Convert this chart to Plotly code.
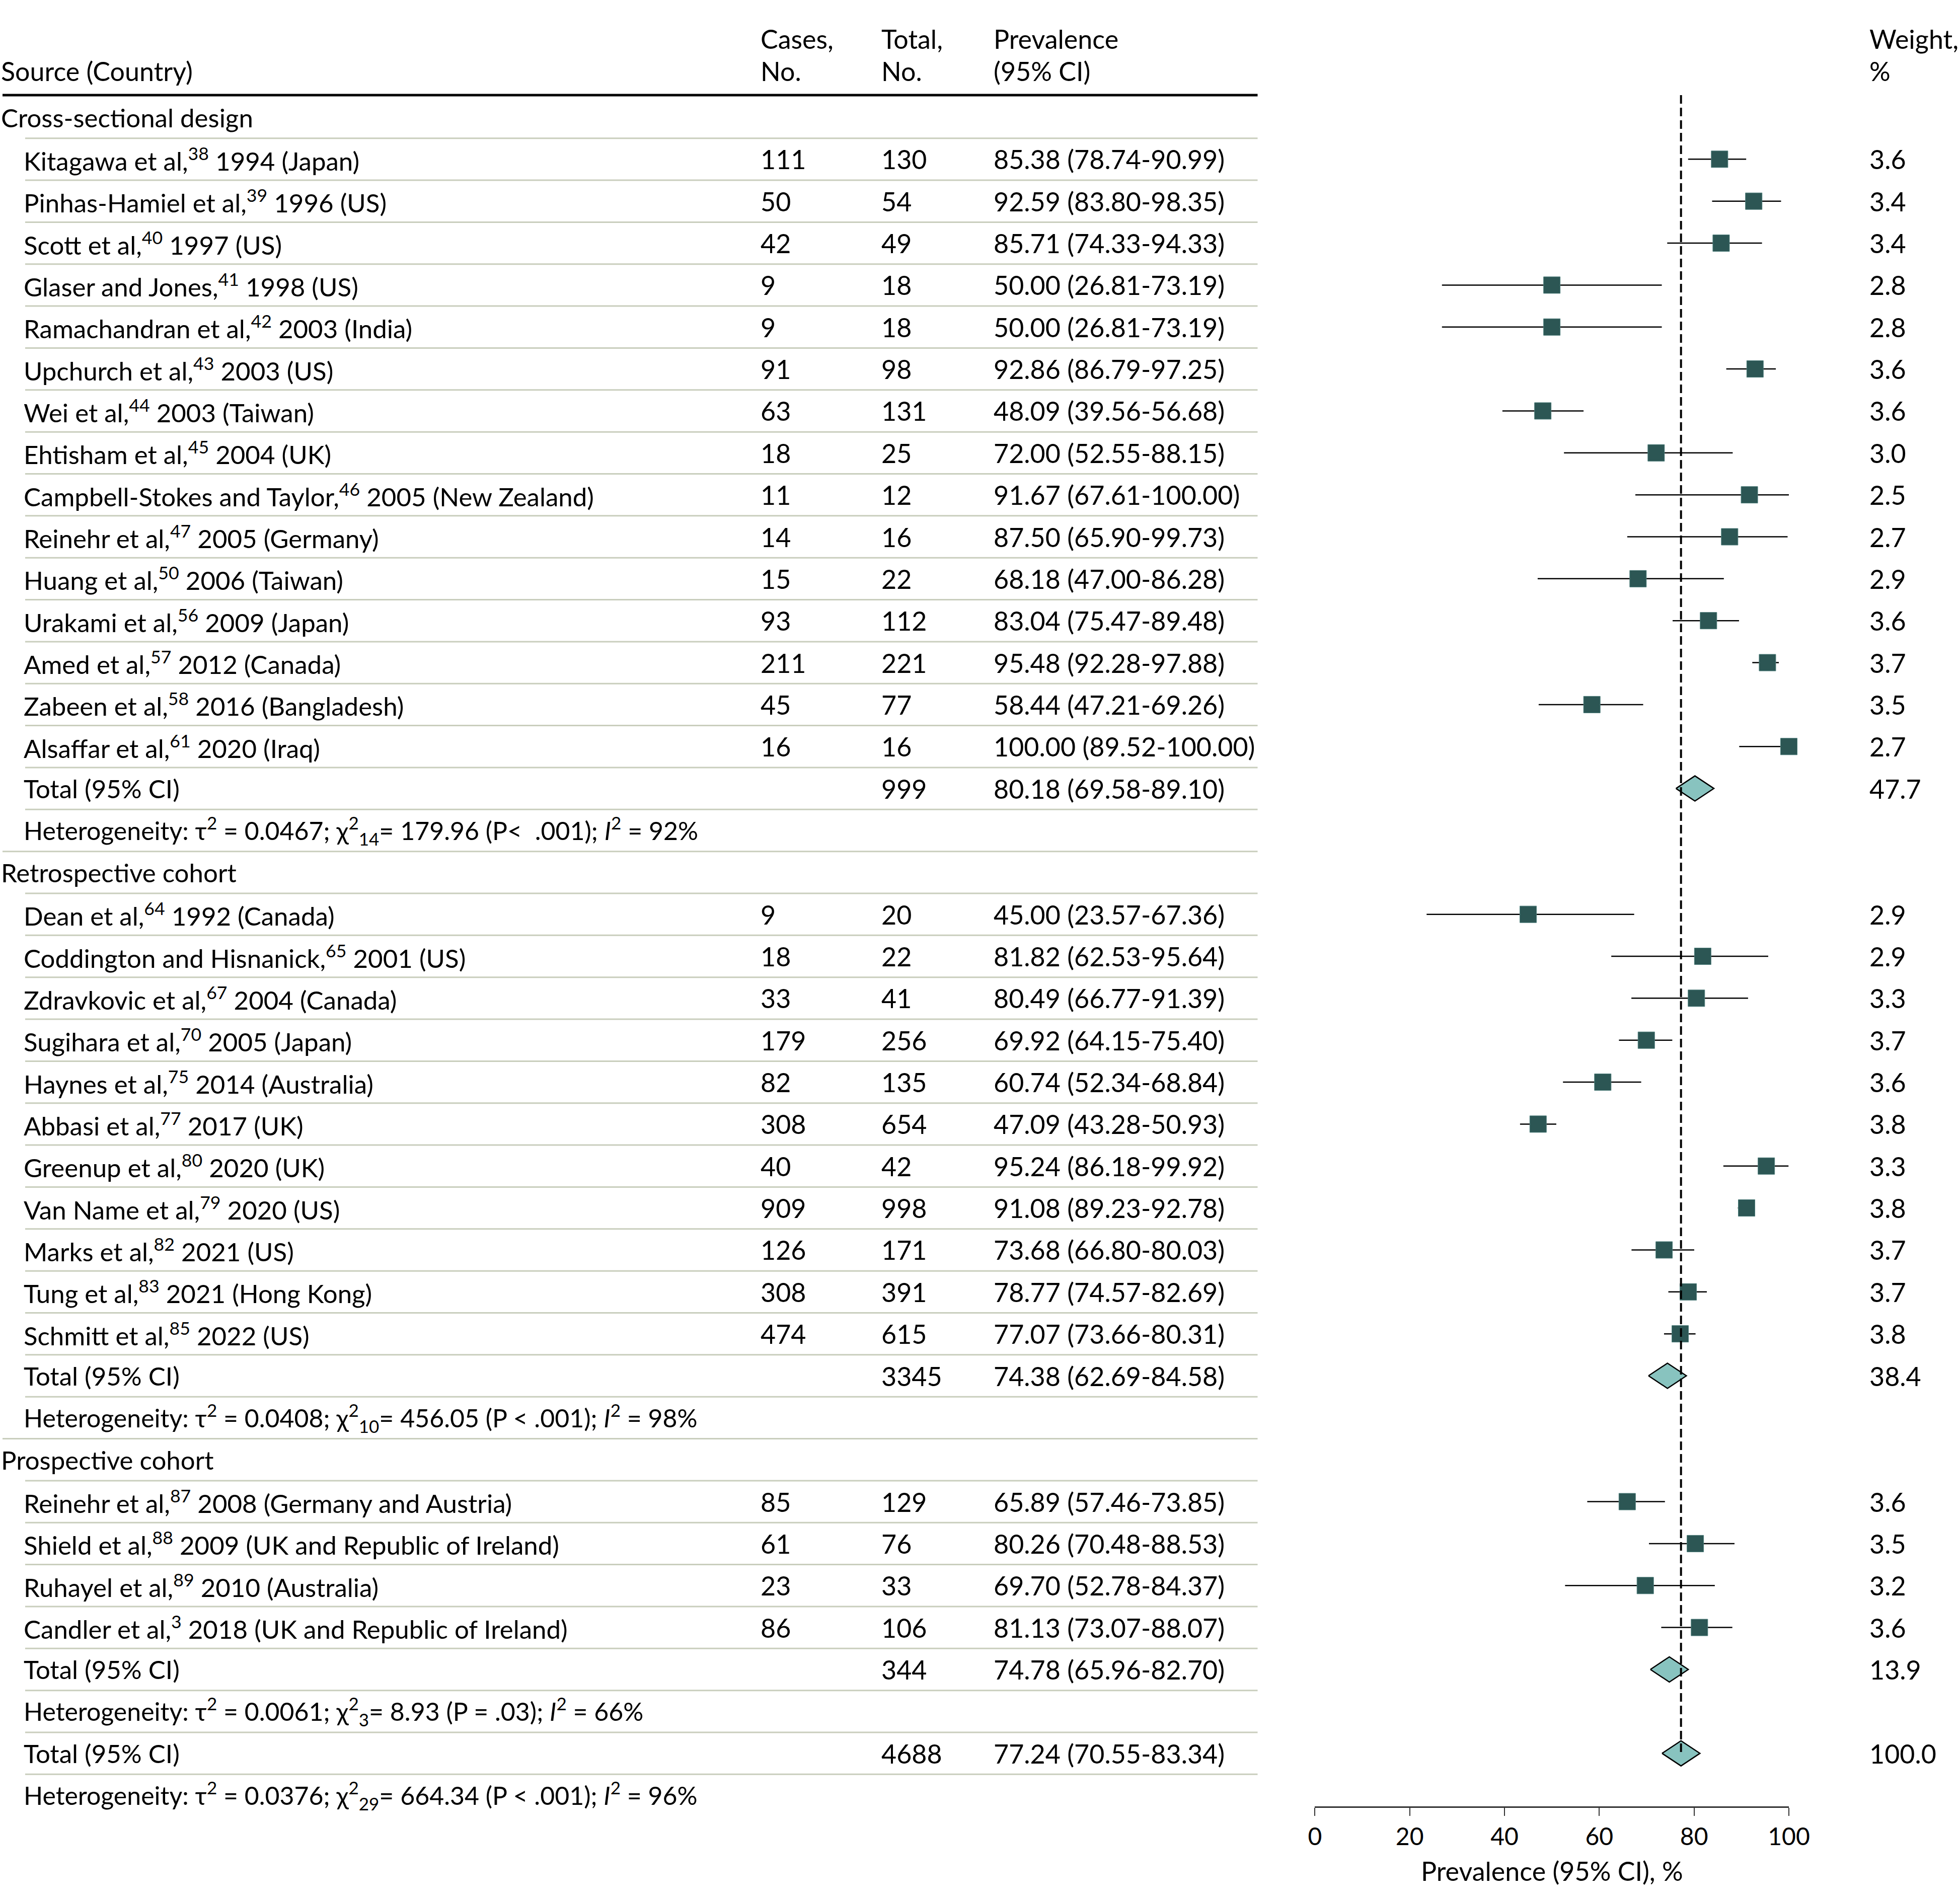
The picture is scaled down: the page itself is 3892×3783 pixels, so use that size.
import plotly.graph_objects as go

W, H = 3892, 3783

# ---------------- data ----------------
cs_names = ["Kitagawa et al", "Pinhas-Hamiel et al", "Scott et al", "Glaser and Jones",
            "Ramachandran et al", "Upchurch et al", "Wei et al", "Ehtisham et al",
            "Campbell-Stokes and Taylor", "Reinehr et al", "Huang et al", "Urakami et al",
            "Amed et al", "Zabeen et al", "Alsaffar et al"]
cs_refs = [38, 39, 40, 41, 42, 43, 44, 45, 46, 47, 50, 56, 57, 58, 61]
cs_years = ["1994 (Japan)", "1996 (US)", "1997 (US)", "1998 (US)", "2003 (India)", "2003 (US)",
            "2003 (Taiwan)", "2004 (UK)", "2005 (New Zealand)", "2005 (Germany)", "2006 (Taiwan)",
            "2009 (Japan)", "2012 (Canada)", "2016 (Bangladesh)", "2020 (Iraq)"]
cs_cases = [111, 50, 42, 9, 9, 91, 63, 18, 11, 14, 15, 93, 211, 45, 16]
cs_total = [130, 54, 49, 18, 18, 98, 131, 25, 12, 16, 22, 112, 221, 77, 16]
cs_prev = [85.38, 92.59, 85.71, 50.00, 50.00, 92.86, 48.09, 72.00, 91.67, 87.50, 68.18, 83.04, 95.48, 58.44, 100.00]
cs_lo = [78.74, 83.80, 74.33, 26.81, 26.81, 86.79, 39.56, 52.55, 67.61, 65.90, 47.00, 75.47, 92.28, 47.21, 89.52]
cs_hi = [90.99, 98.35, 94.33, 73.19, 73.19, 97.25, 56.68, 88.15, 100.00, 99.73, 86.28, 89.48, 97.88, 69.26, 100.00]
cs_weight = [3.6, 3.4, 3.4, 2.8, 2.8, 3.6, 3.6, 3.0, 2.5, 2.7, 2.9, 3.6, 3.7, 3.5, 2.7]
cs_pool = dict(total=999, prev=80.18, lo=69.58, hi=89.10, weight=47.7)
cs_het = "Heterogeneity: τ<sup>2</sup> = 0.0467; χ<sup>2</sup><sub>14</sub>= 179.96 (P<  .001); <i>I</i><sup>2</sup> = 92%"

rc_names = ["Dean et al", "Coddington and Hisnanick", "Zdravkovic et al", "Sugihara et al",
            "Haynes et al", "Abbasi et al", "Greenup et al", "Van Name et al", "Marks et al",
            "Tung et al", "Schmitt et al"]
rc_refs = [64, 65, 67, 70, 75, 77, 80, 79, 82, 83, 85]
rc_years = ["1992 (Canada)", "2001 (US)", "2004 (Canada)", "2005 (Japan)", "2014 (Australia)",
            "2017 (UK)", "2020 (UK)", "2020 (US)", "2021 (US)", "2021 (Hong Kong)", "2022 (US)"]
rc_cases = [9, 18, 33, 179, 82, 308, 40, 909, 126, 308, 474]
rc_total = [20, 22, 41, 256, 135, 654, 42, 998, 171, 391, 615]
rc_prev = [45.00, 81.82, 80.49, 69.92, 60.74, 47.09, 95.24, 91.08, 73.68, 78.77, 77.07]
rc_lo = [23.57, 62.53, 66.77, 64.15, 52.34, 43.28, 86.18, 89.23, 66.80, 74.57, 73.66]
rc_hi = [67.36, 95.64, 91.39, 75.40, 68.84, 50.93, 99.92, 92.78, 80.03, 82.69, 80.31]
rc_weight = [2.9, 2.9, 3.3, 3.7, 3.6, 3.8, 3.3, 3.8, 3.7, 3.7, 3.8]
rc_pool = dict(total=3345, prev=74.38, lo=62.69, hi=84.58, weight=38.4)
rc_het = "Heterogeneity: τ<sup>2</sup> = 0.0408; χ<sup>2</sup><sub>10</sub>= 456.05 (P < .001); <i>I</i><sup>2</sup> = 98%"

pc_names = ["Reinehr et al", "Shield et al", "Ruhayel et al", "Candler et al"]
pc_refs = [87, 88, 89, 3]
pc_years = ["2008 (Germany and Austria)", "2009 (UK and Republic of Ireland)",
            "2010 (Australia)", "2018 (UK and Republic of Ireland)"]
pc_cases = [85, 61, 23, 86]
pc_total = [129, 76, 33, 106]
pc_prev = [65.89, 80.26, 69.70, 81.13]
pc_lo = [57.46, 70.48, 52.78, 73.07]
pc_hi = [73.85, 88.53, 84.37, 88.07]
pc_weight = [3.6, 3.5, 3.2, 3.6]
pc_pool = dict(total=344, prev=74.78, lo=65.96, hi=82.70, weight=13.9)
pc_het = "Heterogeneity: τ<sup>2</sup> = 0.0061; χ<sup>2</sup><sub>3</sub>= 8.93 (P = .03); <i>I</i><sup>2</sup> = 66%"

all_pool = dict(total=4688, prev=77.24, lo=70.55, hi=83.34, weight=100.0)
all_het = "Heterogeneity: τ<sup>2</sup> = 0.0376; χ<sup>2</sup><sub>29</sub>= 664.34 (P < .001); <i>I</i><sup>2</sup> = 96%"

groups = [
    ("Cross-sectional design", cs_names, cs_refs, cs_years, cs_cases, cs_total, cs_prev, cs_lo, cs_hi, cs_weight, cs_pool, cs_het),
    ("Retrospective cohort", rc_names, rc_refs, rc_years, rc_cases, rc_total, rc_prev, rc_lo, rc_hi, rc_weight, rc_pool, rc_het),
    ("Prospective cohort", pc_names, pc_refs, pc_years, pc_cases, pc_total, pc_prev, pc_lo, pc_hi, pc_weight, pc_pool, pc_het),
]

x_ticks = [0, 20, 40, 60, 80, 100]

# ---------------- layout constants (pixels) ----------------
FONT = "Lato, 'Open Sans', sans-serif"
FS = 52        # numbers / headers
FS_NAME = 51   # study labels
FS_HET = 50    # heterogeneity lines
ROW0 = 233.0
PITCH = 83.35
X_NAME0, X_NAME1 = -5, 40
X_CASES, X_TOTAL, X_PREV, X_WEIGHT = 1506, 1746, 1970, 3712
TABLE_END = 2497
AX_L, AX_R = 2611, 3554
AX_Y = 3590
SQ_COLOR = "#2c5654"
DM_COLOR = "#88c3bf"
SEP_COLOR = "#c9cebd"
# horizontal calibration of the photographed page
CAL_OFF, CAL_SCALE = 9.0, 0.987


def yrow(p):
    return (p - ROW0) / PITCH


def px(x):
    return (x - CAL_OFF) / CAL_SCALE / W


annotations = []
shapes = []


def add_text(xp, row, text, size=FS):
    annotations.append(dict(x=px(xp), xref="paper", y=row, yref="y", text=text,
                            showarrow=False, xanchor="left", yanchor="middle",
                            font=dict(size=size, color="#000000", family=FONT)))


# build rows
rows = []
for g in groups:
    title, names, refs, years, cases, totals, prev, lo, hi, wt, pool, het = g
    rows.append(("header", title))
    for i in range(len(names)):
        rows.append(("study", dict(label=f"{names[i]},<sup>{refs[i]}</sup> {years[i]}",
                                   cases=cases[i], total=totals[i], prev=prev[i],
                                   lo=lo[i], hi=hi[i], weight=wt[i])))
    rows.append(("pool", pool))
    rows.append(("het", het))
rows.append(("pool", all_pool))
rows.append(("het", all_het))

st_x, st_y, st_plus, st_minus = [], [], [], []
pools = []
for r, (kind, p) in enumerate(rows):
    if kind == "header":
        add_text(X_NAME0, r, p, FS_NAME)
    elif kind == "study":
        add_text(X_NAME1, r, p["label"], FS_NAME)
        add_text(X_CASES, r, str(p["cases"]))
        add_text(X_TOTAL, r, str(p["total"]))
        add_text(X_PREV, r, f"{p['prev']:.2f} ({p['lo']:.2f}-{p['hi']:.2f})")
        add_text(X_WEIGHT, r, f"{p['weight']:.1f}")
        st_x.append(p["prev"]); st_y.append(r)
        st_plus.append(p["hi"] - p["prev"]); st_minus.append(p["prev"] - p["lo"])
    elif kind == "pool":
        add_text(X_NAME1, r, "Total (95% CI)", FS_NAME)
        add_text(X_TOTAL, r, str(p["total"]))
        add_text(X_PREV, r, f"{p['prev']:.2f} ({p['lo']:.2f}-{p['hi']:.2f})")
        add_text(X_WEIGHT, r, f"{p['weight']:.1f}")
        pools.append((r, p["prev"]))
    elif kind == "het":
        add_text(X_NAME1, r, p, FS_HET)

# separators between rows
for r in range(len(rows) - 1):
    nxt = rows[r + 1][0]
    x0 = 0 if nxt == "header" else 45
    shapes.append(dict(type="line", xref="paper", yref="y", x0=px(x0), x1=px(TABLE_END),
                       y0=r + 0.5, y1=r + 0.5, line=dict(color=SEP_COLOR, width=3), layer="below"))

# header
hdr1, hdr2 = yrow(77), yrow(141)
add_text(X_NAME0, hdr2, "Source (Country)")
add_text(X_CASES, hdr1, "Cases,"); add_text(X_CASES, hdr2, "No.")
add_text(X_TOTAL, hdr1, "Total,"); add_text(X_TOTAL, hdr2, "No.")
add_text(X_PREV, hdr1, "Prevalence"); add_text(X_PREV, hdr2, "(95% CI)")
add_text(X_WEIGHT, hdr1, "Weight,"); add_text(X_WEIGHT, hdr2, "%")
shapes.append(dict(type="line", xref="paper", yref="y", x0=px(0), x1=px(TABLE_END),
                   y0=yrow(189), y1=yrow(189), line=dict(color="#000000", width=5)))

fig = go.Figure()

# study squares with CI
fig.add_trace(go.Scatter(
    x=st_x, y=st_y, mode="markers", cliponaxis=False,
    marker=dict(symbol="square", size=33, color=SQ_COLOR, line=dict(color="#4f7f7c", width=1)),
    error_x=dict(type="data", symmetric=False, array=st_plus, arrayminus=st_minus,
                 color="#000000", thickness=2.5, width=0),
    hoverinfo="skip", showlegend=False))

# pooled diamonds
DW, DH = 4.0, 0.30
for r, e in pools:
    fig.add_trace(go.Scatter(
        x=[e - DW, e, e + DW, e, e - DW], y=[r, r - DH, r, r + DH, r],
        mode="lines", fill="toself", fillcolor=DM_COLOR, cliponaxis=False,
        line=dict(color="#000000", width=2.5), hoverinfo="skip", showlegend=False))

# overall dashed reference line
overall_row = pools[-1][0]
shapes.append(dict(type="line", xref="x", yref="y", x0=all_pool["prev"], x1=all_pool["prev"],
                   y0=yrow(189), y1=overall_row,
                   line=dict(color="#000000", width=4, dash="17px,8px"), layer="above"))

annotations.append(dict(x=px((AX_L + AX_R) / 2), xref="paper", y=1 - 3717 / H, yref="paper",
                        text="Prevalence (95% CI), %", showarrow=False, xanchor="center",
                        yanchor="middle", font=dict(size=FS, color="#000000", family=FONT)))

fig.update_layout(
    width=W, height=H, margin=dict(l=0, r=0, t=0, b=0),
    paper_bgcolor="white", plot_bgcolor="white", showlegend=False,
    font=dict(family=FONT, size=FS, color="#000000"),
    xaxis=dict(domain=[px(AX_L), px(AX_R)], range=[0, 100], anchor="free", position=1 - AX_Y / H,
               showline=True, linecolor="#333333", linewidth=3, ticks="outside", ticklen=16,
               tickwidth=2, tickcolor="#333333", tickvals=x_ticks, showgrid=False, zeroline=False,
               tickfont=dict(size=48, family=FONT, color="#000000")),
    yaxis=dict(domain=[0, 1], range=[yrow(H), yrow(0)], visible=False, showgrid=False, zeroline=False),
    annotations=annotations, shapes=shapes,
)

fig.write_html("out.html", config={"displayModeBar": False},
               post_script="document.body.style.margin='0';document.body.style.overflow='hidden';")
